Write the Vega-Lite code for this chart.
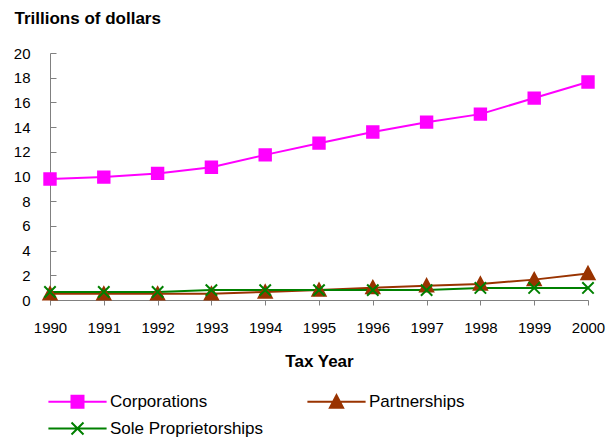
{
  "$schema": "https://vega.github.io/schema/vega-lite/v6.json",
  "autosize": "none",
  "width": 538,
  "height": 247,
  "padding": {"left": 50, "top": 53, "right": 22, "bottom": 138},
  "background": "white",
  "config": {
    "view": {"stroke": null},
    "font": "Liberation Sans",
    "axis": {"grid": false, "domainColor": "#808080", "tickColor": "#808080", "labelColor": "black", "labelFont": "Liberation Sans", "labelFontSize": 15, "titleFont": "Liberation Sans", "titleFontWeight": "bold", "titleFontSize": 17, "titleColor": "black"},
    "legend": {"labelFont": "Liberation Sans", "labelFontSize": 17, "labelColor": "black"}
  },
  "data": {
    "values": [
      {"year": 1990, "series": "Corporations", "value": 9.8},
      {"year": 1991, "series": "Corporations", "value": 9.95},
      {"year": 1992, "series": "Corporations", "value": 10.25},
      {"year": 1993, "series": "Corporations", "value": 10.75},
      {"year": 1994, "series": "Corporations", "value": 11.75},
      {"year": 1995, "series": "Corporations", "value": 12.7},
      {"year": 1996, "series": "Corporations", "value": 13.6},
      {"year": 1997, "series": "Corporations", "value": 14.4},
      {"year": 1998, "series": "Corporations", "value": 15.05},
      {"year": 1999, "series": "Corporations", "value": 16.35},
      {"year": 2000, "series": "Corporations", "value": 17.65},
      {"year": 1990, "series": "Partnerships", "value": 0.5},
      {"year": 1991, "series": "Partnerships", "value": 0.5},
      {"year": 1992, "series": "Partnerships", "value": 0.5},
      {"year": 1993, "series": "Partnerships", "value": 0.5},
      {"year": 1994, "series": "Partnerships", "value": 0.65},
      {"year": 1995, "series": "Partnerships", "value": 0.8},
      {"year": 1996, "series": "Partnerships", "value": 1.0},
      {"year": 1997, "series": "Partnerships", "value": 1.15},
      {"year": 1998, "series": "Partnerships", "value": 1.3},
      {"year": 1999, "series": "Partnerships", "value": 1.65},
      {"year": 2000, "series": "Partnerships", "value": 2.15},
      {"year": 1990, "series": "Sole Proprietorships", "value": 0.65},
      {"year": 1991, "series": "Sole Proprietorships", "value": 0.65},
      {"year": 1992, "series": "Sole Proprietorships", "value": 0.65},
      {"year": 1993, "series": "Sole Proprietorships", "value": 0.8},
      {"year": 1994, "series": "Sole Proprietorships", "value": 0.8},
      {"year": 1995, "series": "Sole Proprietorships", "value": 0.8},
      {"year": 1996, "series": "Sole Proprietorships", "value": 0.8},
      {"year": 1997, "series": "Sole Proprietorships", "value": 0.8},
      {"year": 1998, "series": "Sole Proprietorships", "value": 0.98},
      {"year": 1999, "series": "Sole Proprietorships", "value": 0.98},
      {"year": 2000, "series": "Sole Proprietorships", "value": 0.98}
    ]
  },
  "encoding": {
    "x": {
      "field": "year", "type": "quantitative",
      "scale": {"domain": [1990, 2000], "nice": false, "zero": false},
      "axis": {"values": [1990,1991,1992,1993,1994,1995,1996,1997,1998,1999,2000], "format": "d", "title": "Tax Year", "tickSize": 5, "labelPadding": 15, "titlePadding": 18, "labelFlush": false, "labelOverlap": false}
    },
    "y": {
      "field": "value", "type": "quantitative",
      "scale": {"domain": [0, 20], "nice": false},
      "axis": {"values": [0,2,4,6,8,10,12,14,16,18,20], "title": "Trillions of dollars", "titleAngle": 0, "titleAlign": "left", "titleBaseline": "alphabetic", "titleX": -36, "titleY": -30, "tickSize": -6, "labelPadding": 26}
    }
  },
  "layer": [
    {
      "mark": {"type": "line", "strokeWidth": 2},
      "encoding": {
        "color": {"field": "series", "type": "nominal", "scale": {"domain": ["Corporations", "Partnerships", "Sole Proprietorships"], "range": ["#FF00FF", "#993300", "#008000"]}, "legend": null}
      }
    },
    {
      "mark": {"type": "point", "filled": true, "opacity": 1, "size": 130, "strokeWidth": 2},
      "encoding": {
        "color": {"field": "series", "type": "nominal", "scale": {"domain": ["Corporations", "Partnerships", "Sole Proprietorships"], "range": ["#FF00FF", "#993300", "#008000"]}, "legend": null},
        "stroke": {"field": "series", "type": "nominal", "scale": {"domain": ["Corporations", "Partnerships", "Sole Proprietorships"], "range": ["#FF00FF", "#993300", "#008000"]}, "legend": null},
        "shape": {"field": "series", "type": "nominal", "scale": {"domain": ["Corporations", "Partnerships", "Sole Proprietorships"], "range": ["square", "M0,-1.15L1.15,1H-1.15Z", "M-1,-1L1,1M-1,1L1,-1"]}, "legend": null}
      }
    },
    {
      "transform": [{"filter": "false"}],
      "mark": {"type": "point", "filled": true, "opacity": 1, "size": 144, "strokeWidth": 2},
      "encoding": {
        "color": {"field": "series", "type": "nominal", "scale": {"domain": ["Corporations", "Partnerships", "Sole Proprietorships"], "range": ["#FF00FF", "#993300", "#008000"]}, "legend": {"title": null, "orient": "none", "direction": "horizontal", "legendX": -9, "legendY": 340, "columns": 2, "columnPadding": 36, "rowPadding": 6, "symbolSize": 144, "symbolStrokeWidth": 2, "symbolOffset": 28, "labelOffset": 24}},
        "stroke": {"field": "series", "type": "nominal", "scale": {"domain": ["Corporations", "Partnerships", "Sole Proprietorships"], "range": ["#FF00FF", "#993300", "#008000"]}, "legend": {"title": null, "orient": "none", "direction": "horizontal", "legendX": -9, "legendY": 340, "columns": 2, "columnPadding": 36, "rowPadding": 6, "symbolSize": 144, "symbolStrokeWidth": 2, "symbolOffset": 28, "labelOffset": 24}},
        "shape": {"field": "series", "type": "nominal", "scale": {"domain": ["Corporations", "Partnerships", "Sole Proprietorships"], "range": ["M-4.85,0H4.85M-1,-1H1V1H-1Z", "M-4.85,0H4.85M0,-1.1L1.1,1H-1.1Z", "M-4.85,0H4.85M-1,-1L1,1M-1,1L1,-1"]}, "legend": {"title": null, "orient": "none", "direction": "horizontal", "legendX": -9, "legendY": 340, "columns": 2, "columnPadding": 36, "rowPadding": 6, "symbolSize": 144, "symbolStrokeWidth": 2, "symbolOffset": 28, "labelOffset": 24}}
      }
    }
  ],
  "resolve": {"scale": {"color": "independent", "shape": "independent", "stroke": "independent"}}
}
